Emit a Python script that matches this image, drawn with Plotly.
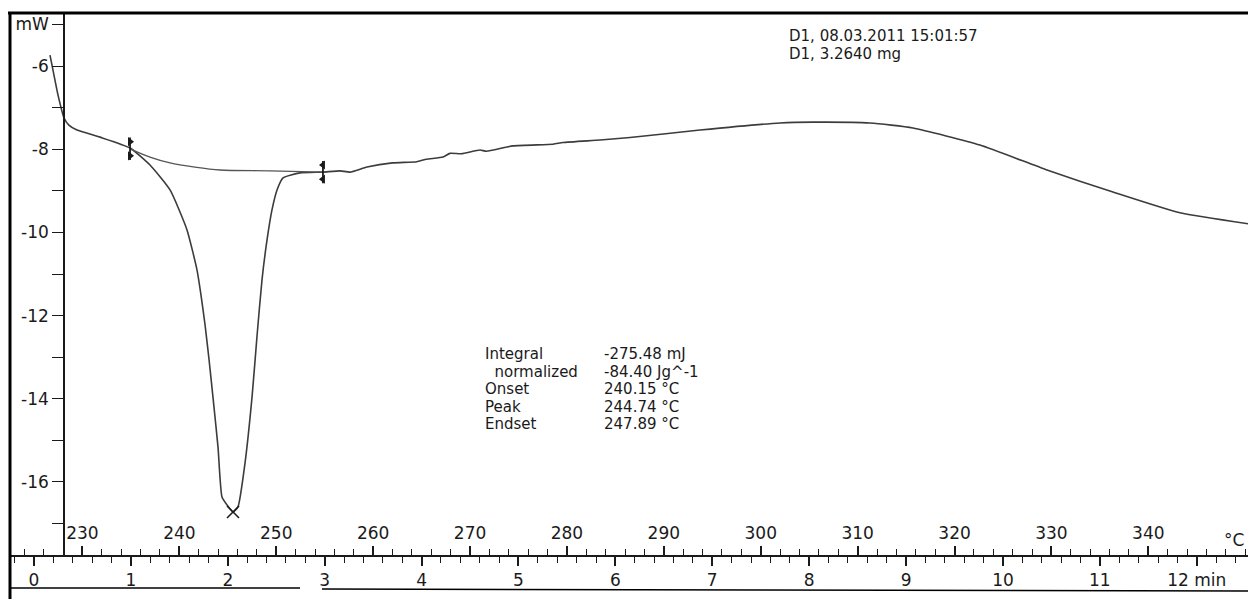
import plotly.graph_objects as go

# ---------------- data ----------------
curve_time = [0.165, 0.196, 0.248, 0.310, 0.36, 0.444, 0.681, 0.991, 1.197, 1.404, 1.579, 1.682,
              1.723, 1.765, 1.806, 1.847, 1.899, 1.940, 1.992, 2.054, 2.105, 2.178, 2.250, 2.301,
              2.353, 2.405, 2.456, 2.508, 2.570, 2.745, 2.982, 3.16, 3.261, 3.437, 3.70,
              3.95, 4.05, 4.221, 4.293, 4.41, 4.603, 4.67, 4.943, 5.356, 5.46,
              5.841, 6.151, 6.873, 7.699, 8.039, 8.627, 9.071, 9.763, 10.454, 11.135,
              11.827, 12.611]
curve_mw = [-5.74, -6.10, -6.70, -7.25, -7.42, -7.54, -7.71, -7.97, -8.38, -8.98, -9.94, -10.90,
            -11.50, -12.22, -13.05, -13.96, -15.16, -16.36, -16.55, -16.72, -16.60, -15.54, -13.96,
            -12.51, -11.14, -10.18, -9.46, -8.98, -8.69, -8.57, -8.55, -8.52, -8.55, -8.43, -8.33,
            -8.30, -8.24, -8.19, -8.10, -8.11, -8.02, -8.05, -7.92, -7.88, -7.84,
            -7.78, -7.72, -7.54, -7.37, -7.35, -7.37, -7.49, -7.90, -8.50, -9.03,
            -9.53, -9.82]

baseline_time = [0.991, 1.197, 1.404, 1.661, 1.919, 2.436, 2.982]
baseline_mw = [-7.99, -8.19, -8.33, -8.43, -8.50, -8.52, -8.55]

limit_time = [0.991, 2.982]
limit_mw = [-7.99, -8.55]

peak_time = [2.054]
peak_mw = [-16.72]

time_ticks = list(range(0, 13))
time_labels = [str(v) for v in range(0, 12)] + ["12 min"]
temp_ticks = list(range(230, 350, 10))
temp_labels = [str(v) for v in temp_ticks]
mw_ticks = list(range(-5, -18, -1))
mw_labels = ["mW" if v == -5 else (str(v) if v % 2 == 0 else "") for v in mw_ticks]

info_names = ["Integral", "  normalized", "Onset", "Peak", "Endset"]
info_values = ["-275.48 mJ", "-84.40 Jg^-1", "240.15 °C", "244.74 °C", "247.89 °C"]
header_lines = ["D1, 08.03.2011 15:01:57", "D1, 3.2640 mg"]

# temperature scale: T = T0 + rate * t
T0 = 225.0
RATE = 10.0

# ---------------- layout geometry ----------------
# the page body adds an 8 px offset; targets below are in screenshot pixels
OFF = 8
W, H = 1256 - OFF, 599 - OFF
ML, MR, MT, MB = 10 - OFF, 4, 13 - OFF, 44
t_range = [-0.2477, 12.570]
mw_range = [-17.755, -4.726]
FONT = "DejaVu Sans"
FS = 17
TS = 15
INK = "#1a1a1a"
CURVE = "#3c3c3c"
PW, PH = W - ML - MR, H - MT - MB


def px(x):
    return (x - OFF - ML) / PW


def py(y):
    return (H - MB - (y - OFF)) / PH


fig = go.Figure()

fig.add_trace(go.Scatter(x=curve_time, y=curve_mw, mode="lines",
                         line=dict(color=CURVE, width=1.6, shape="spline", smoothing=0.5),
                         showlegend=False, hoverinfo="skip"))
fig.add_trace(go.Scatter(x=baseline_time, y=baseline_mw, mode="lines",
                         line=dict(color="#555555", width=1.4, shape="spline", smoothing=0.8),
                         showlegend=False, hoverinfo="skip"))
# limit brackets
fig.add_trace(go.Scatter(x=limit_time, y=limit_mw, mode="markers",
                         marker=dict(symbol="line-ns", size=16, line=dict(color=INK, width=1.8)),
                         showlegend=False, hoverinfo="skip"))
for i, sym in enumerate(["triangle-right", "triangle-left"]):
    fig.add_trace(go.Scatter(x=[limit_time[i], limit_time[i]],
                             y=[limit_mw[i] + 0.17, limit_mw[i] - 0.17],
                             mode="markers",
                             marker=dict(symbol=sym, size=8, color=INK),
                             showlegend=False, hoverinfo="skip"))
fig.add_trace(go.Scatter(x=peak_time, y=peak_mw, mode="markers",
                         marker=dict(symbol="x-thin", size=12, line=dict(color=INK, width=1.5)),
                         showlegend=False, hoverinfo="skip"))
# invisible trace to bind the temperature axis
fig.add_trace(go.Scatter(x=[T0 + RATE * t for t in curve_time], y=curve_mw, xaxis="x2",
                         mode="lines", line=dict(width=0), opacity=0,
                         showlegend=False, hoverinfo="skip"))

axis_font = dict(family=FONT, size=FS, color=INK)

fig.update_layout(
    width=W, height=H,
    margin=dict(l=ML, r=MR, t=MT, b=MB, autoexpand=False),
    paper_bgcolor="white", plot_bgcolor="white",
    showlegend=False,
    xaxis=dict(range=t_range, tickvals=time_ticks, ticktext=time_labels, automargin=False,
               ticks="outside", ticklen=9, tickwidth=1.5, tickcolor=INK,
               minor=dict(dtick=0.2, tick0=0, ticks="outside", ticklen=6, tickwidth=1, tickcolor=INK),
               showline=True, linecolor=INK, linewidth=1.5,
               showgrid=False, zeroline=False, tickfont=axis_font, anchor="y"),
    xaxis2=dict(range=[T0 + RATE * t_range[0], T0 + RATE * t_range[1]], automargin=False,
                overlaying="x", side="top", anchor="free", position=0,
                tickvals=temp_ticks, ticktext=temp_labels,
                ticks="outside", ticklen=9, tickwidth=1.5, tickcolor=INK,
                minor=dict(dtick=2, tick0=230, ticks="outside", ticklen=6, tickwidth=1, tickcolor=INK),
                showline=False, showgrid=False, zeroline=False, tickfont=axis_font),
    yaxis=dict(range=mw_range, tickvals=mw_ticks, ticktext=mw_labels, automargin=False,
               anchor="free", position=px(64),
               ticks="outside", ticklen=11, tickwidth=1.2, tickcolor=INK,
               showline=True, linecolor=INK, linewidth=1.6,
               showgrid=False, zeroline=False, tickfont=axis_font),
)

# header text (top right)
for i, line in enumerate(header_lines):
    fig.add_annotation(text=line, xref="paper", yref="paper",
                       x=px(787), y=py(36 + 17.5 * i),
                       xanchor="left", yanchor="middle", showarrow=False,
                       font=dict(family=FONT, size=TS, color=INK))

# evaluation table
for i, (name, val) in enumerate(zip(info_names, info_values)):
    yy = py(354 + 17.5 * i)
    fig.add_annotation(text=name.replace(" ", "&nbsp;"), xref="paper", yref="paper",
                       x=px(483), y=yy, xanchor="left", yanchor="middle",
                       showarrow=False, font=dict(family=FONT, size=TS, color=INK))
    fig.add_annotation(text=val, xref="paper", yref="paper",
                       x=px(602), y=yy, xanchor="left", yanchor="middle",
                       showarrow=False, font=dict(family=FONT, size=TS, color=INK))

# unit label of the temperature ruler
fig.add_annotation(text="°C", xref="paper", yref="paper",
                   x=px(1234), y=py(540),
                   xanchor="center", yanchor="middle", showarrow=False,
                   font=dict(family=FONT, size=FS, color=INK))

# scan frame
frame = [
    (OFF, 13, 1256, 13, 3),
    (10, 13, 10, 599, 3),
    (1252, OFF, 1252, 599, 1.5),
    (10, 588, 300, 588, 1.5),
    (322, 589, 1256, 591, 1.5),
]
for x0, y0, x1, y1, w in frame:
    fig.add_shape(type="line", xref="paper", yref="paper",
                  x0=px(x0), y0=py(y0), x1=px(x1), y1=py(y1),
                  line=dict(color="black", width=w))

fig.write_html("out.html")
